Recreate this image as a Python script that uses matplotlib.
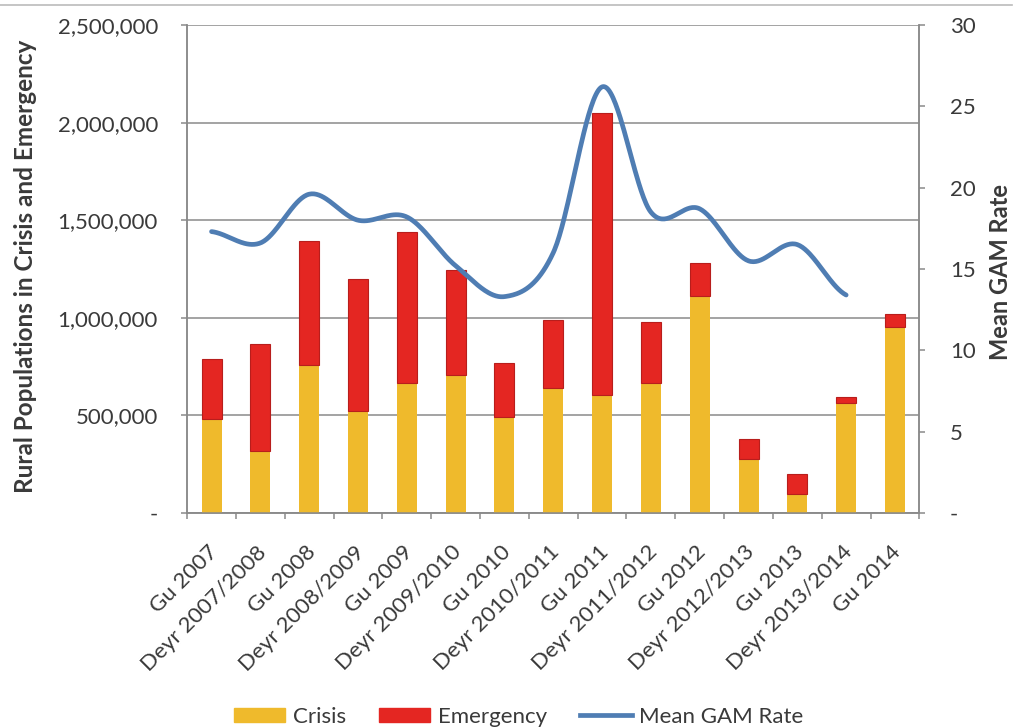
import numpy as np
import matplotlib
matplotlib.use("Agg")
import matplotlib.pyplot as plt
import matplotlib.transforms as mtransforms
from matplotlib.lines import Line2D
from matplotlib.patches import Patch
from matplotlib.ticker import FuncFormatter, FixedLocator

plt.rcParams['font.family'] = ['Lato', 'DejaVu Sans']

seasons = ['Gu 2007', 'Deyr 2007/2008', 'Gu 2008', 'Deyr 2008/2009', 'Gu 2009',
           'Deyr 2009/2010', 'Gu 2010', 'Deyr 2010/2011', 'Gu 2011', 'Deyr 2011/2012',
           'Gu 2012', 'Deyr 2012/2013', 'Gu 2013', 'Deyr 2013/2014', 'Gu 2014']
crisis = [482000, 316000, 756000, 524000, 664000, 707000, 490000, 639000,
          604000, 664000, 1113000, 276000, 96000, 562000, 955000]
total = [787000, 867000, 1392000, 1200000, 1438000, 1246000, 770000, 990000,
         2051000, 976000, 1281000, 378000, 197000, 592000, 1020000]
emergency = [t - c for t, c in zip(total, crisis)]
gam = [17.3, 16.6, 19.6, 18.0, 18.2, 15.2, 13.3, 16.0, 26.2, 18.5, 18.7,
       15.5, 16.5, 13.4]

YELLOW = '#EFBA2C'
RED = '#E42622'
BLUE = '#4F7DB3'
GRAY = '#8A8A8A'
TXT = '#3A3A3A'
FS = 16


def smooth(ys, n=40):
    # Catmull-Rom spline through the points, like a spreadsheet "smoothed line"
    ys = np.asarray(ys, float)
    k = len(ys)
    xs_out, ys_out = [], []
    for i in range(k - 1):
        p0 = ys[i - 1] if i > 0 else ys[i]
        p1, p2 = ys[i], ys[i + 1]
        p3 = ys[i + 2] if i + 2 < k else ys[i + 1]
        m1 = (p2 - p0) / 2
        m2 = (p3 - p1) / 2
        t = np.linspace(0, 1, n, endpoint=(i == k - 2))
        h00 = 2 * t**3 - 3 * t**2 + 1
        h10 = t**3 - 2 * t**2 + t
        h01 = -2 * t**3 + 3 * t**2
        h11 = t**3 - t**2
        xs_out.append(i + t)
        ys_out.append(h00 * p1 + h10 * m1 + h01 * p2 + h11 * m2)
    return np.concatenate(xs_out), np.concatenate(ys_out)


fig = plt.figure(figsize=(10.17, 7.27), dpi=100)
ax = fig.add_axes([0.184, 0.2945, 0.720, 0.671])
ax2 = ax.twinx()

x = np.arange(len(seasons))
ax.bar(x, crisis, width=0.41, color=YELLOW, zorder=3)
ax.bar(x, emergency, bottom=crisis, width=0.41, color=RED,
       edgecolor='#B81E1C', linewidth=0.8, zorder=3)

sx, sy = smooth(gam)
ax2.plot(sx, sy, color=BLUE, lw=3.4, solid_capstyle='round')

ax.set_xlim(-0.5, len(seasons) - 0.5)
ax.set_ylim(0, 2500000)
ax2.set_ylim(0, 30)

ax.yaxis.set_major_locator(FixedLocator(np.arange(0, 2500001, 500000)))
ax.yaxis.set_major_formatter(FuncFormatter(lambda v, p: '-' if v == 0 else f'{int(v):,}'))
ax2.yaxis.set_major_locator(FixedLocator(np.arange(0, 31, 5)))
ax2.yaxis.set_major_formatter(FuncFormatter(lambda v, p: '-' if v == 0 else f'{int(v)}'))
ax.grid(axis='y', color=GRAY, lw=1.1, zorder=0)
ax.set_axisbelow(True)

ax.set_xticks(x)
ax.set_xticklabels(seasons, rotation=45, ha='right', rotation_mode='anchor',
                   fontsize=FS, color=TXT)
ax.set_xticks(np.arange(-0.5, len(seasons)), minor=True)
ax.tick_params(axis='x', which='major', length=0, pad=21)
ax.tick_params(axis='x', which='minor', length=4.5, color=GRAY, width=1.1)
ax.tick_params(axis='y', length=4, color=GRAY, width=1.1, labelsize=FS,
               labelcolor=TXT, pad=17)
ax2.tick_params(axis='y', length=4, color=GRAY, width=1.1, labelsize=FS,
                labelcolor=TXT, pad=18)

# nudge the slanted season labels so they end under their bars
shift = mtransforms.ScaledTranslation(-4 / 100, 0, fig.dpi_scale_trans)
for lbl in ax.get_xticklabels():
    lbl.set_transform(lbl.get_transform() + shift)

for a in (ax, ax2):
    a.spines['top'].set_visible(False)
    for s in ('left', 'right', 'bottom'):
        a.spines[s].set_color(GRAY)
        a.spines[s].set_linewidth(1.1)

ax.set_ylabel('Rural Populations in Crisis and Emergency', fontsize=17.5,
              fontweight='bold', color=TXT)
ax.yaxis.set_label_coords(-0.205, 0.505)
ax2.set_ylabel('Mean GAM Rate', fontsize=17, fontweight='bold', color=TXT)
ax2.yaxis.set_label_coords(1.095, 0.494)

handles = [Patch(color=YELLOW, label='Crisis'),
           Patch(color=RED, label='Emergency'),
           Line2D([], [], color=BLUE, lw=3.4, label='Mean GAM Rate')]
fig.legend(handles=handles, loc='center', bbox_to_anchor=(0.51, 0.014), ncol=3,
           frameon=False, fontsize=FS, handlelength=2.3, handleheight=0.6,
           columnspacing=1.5, handletextpad=0.35, labelcolor=TXT)

# thin rule across the top edge
fig.add_artist(Line2D([0.0, 0.995], [0.993, 0.993], color='#BBBBBB', lw=1.2,
                      transform=fig.transFigure))

fig.savefig('out.png', dpi=100)
